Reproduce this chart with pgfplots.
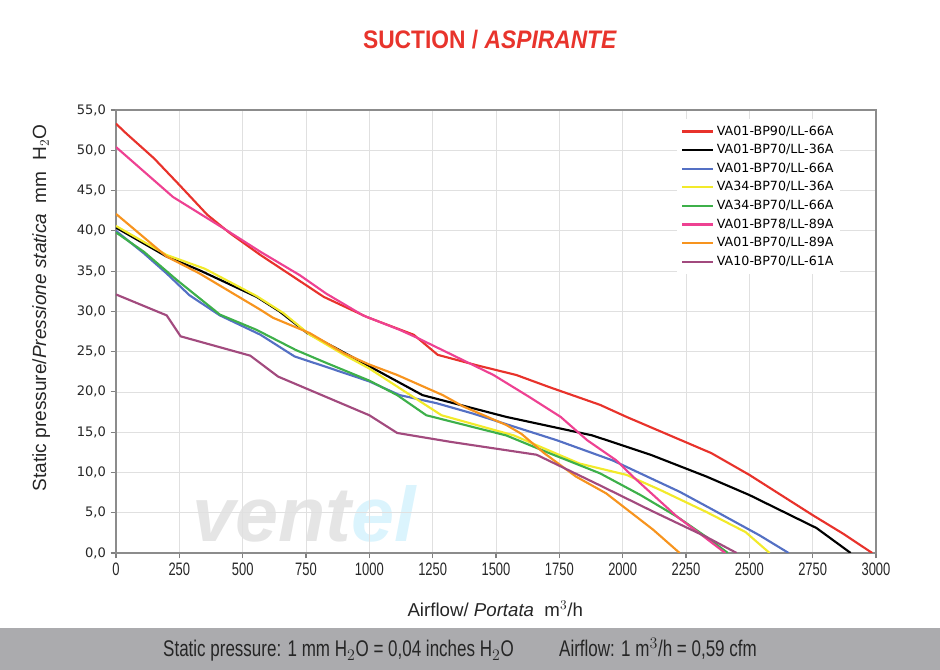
\documentclass[border=0pt]{standalone}
\usepackage{pgfplots}
\pgfplotsset{compat=1.18}
\usepackage{fontspec}
\setmainfont{Liberation Sans}
\newfontfamily\verd{DejaVu Sans}
\newfontfamily\narrow[FakeStretch=0.72]{Liberation Sans}
\newfontfamily\titlefont[FakeStretch=0.9]{Liberation Sans}
\newfontfamily\bandfont[FakeStretch=0.75]{Liberation Sans}
\newfontfamily\logofont[FakeStretch=1.0]{Liberation Sans}
\definecolor{cred}{HTML}{E8322B}
\definecolor{cblack}{HTML}{000000}
\definecolor{cblue}{HTML}{5470C4}
\definecolor{cyellow}{HTML}{F2EA2A}
\definecolor{cgreen}{HTML}{3DB04A}
\definecolor{cpink}{HTML}{EE4192}
\definecolor{corange}{HTML}{F7941E}
\definecolor{cpurple}{HTML}{A24A7E}
\definecolor{bandgray}{HTML}{ABABAE}
\definecolor{titlered}{HTML}{E8342C}
\begin{document}
\begin{tikzpicture}[x=0.75pt,y=0.75pt]
\path[use as bounding box] (0,0) rectangle (940,670);
\fill[bandgray] (0,0) rectangle (940,42);
\node[font=\bandfont\fontsize{17}{19}\selectfont, text=black!85] at (460,20)
  {Static pressure: 1 mm H$_2$O = 0,04 inches H$_2$O\hspace{2em}Airflow: 1 m$^3$/h = 0,59 cfm};
\node[font=\titlefont\bfseries\fontsize{19}{22}\selectfont, text=titlered] at (490,630)
  {SUCTION / \textit{ASPIRANTE}};
\node[font=\logofont\bfseries\itshape\fontsize{58}{60}\selectfont, anchor=base west, inner sep=0] at (192,128)
  {\textcolor{black!10}{vent}\textcolor{cyan!14}{el}};
\begin{axis}[
  at={(87pt,87.75pt)}, anchor=south west,
  scale only axis, width=570pt, height=332.25pt,
  xmin=0, xmax=3000, ymin=0, ymax=55,
  xtick={0,250,...,3000}, ytick={0,5,...,55},
  grid=major, major grid style={draw=black!12, line width=0.6pt},
  axis line style={draw=black!45, line width=0.9pt},
  tick align=outside, xtick pos=left, ytick pos=left,
  major tick length=4pt, tick style={draw=black!50, line width=0.8pt},
  no markers,
  /pgf/number format/assume math mode=true,
  xticklabel style={font=\narrow\fontsize{13.5}{15}\selectfont, text=black!85, /pgf/number format/set thousands separator={}},
  yticklabel style={font=\verd\fontsize{9.8}{12}\selectfont, text=black!85, /pgf/number format/.cd, fixed, fixed zerofill, precision=1, use comma},
  xlabel={Airflow/ \textit{Portata}\ \ m$^3$/h},
  ylabel={Static pressure/\textit{Pressione statica}\ \ mm\ \ H$_2$O},
  xlabel style={font=\fontsize{14}{16}\selectfont, text=black!85, at={(axis description cs:0.499,-0.125)}, anchor=center},
  ylabel style={font=\fontsize{14.3}{16}\selectfont, text=black!85, at={(axis description cs:-0.0985,0.553)}, anchor=center},
  legend style={at={(axis cs:2215,53.9)}, anchor=north west, draw=none, fill=white,
    font=\verd\fontsize{9.5}{11}\selectfont, row sep=1.4pt, inner sep=3pt},
  legend cell align=left,
  legend image code/.code={\draw[#1] (0pt,0pt) -- (23pt,0pt);},
  every axis plot/.append style={line width=1.6pt},
]
\addplot[cred] coordinates {(0,53.3)(40,52.1)(150,49.0)(250,45.7)(360,42.0)(450,39.7)(570,37.0)(700,34.3)(820,31.8)(990,29.3)(1175,27.1)(1270,24.6)(1425,23.3)(1580,22.1)(1710,20.6)(1910,18.4)(2015,16.9)(2350,12.4)(2500,9.7)(2750,4.7)(2870,2.4)(2985,0)};
\addlegendentry{VA01-BP90/LL-66A}
\addplot[cblack] coordinates {(0,40.4)(200,36.8)(330,35.1)(555,31.8)(645,30.0)(755,27.3)(870,25.4)(1210,19.6)(1540,16.9)(1880,14.6)(2110,12.2)(2330,9.5)(2500,7.2)(2765,3.1)(2900,0)};
\addlegendentry{VA01-BP70/LL-36A}
\addplot[cblue] coordinates {(0,40.0)(110,37.2)(200,34.7)(290,32.0)(410,29.5)(570,27.1)(705,24.4)(830,23.1)(1000,21.3)(1120,19.6)(1265,18.6)(1410,17.3)(1570,15.7)(1740,14.0)(1960,11.5)(2225,7.6)(2360,5.3)(2540,2.2)(2655,0)};
\addlegendentry{VA01-BP70/LL-66A}
\addplot[cyellow] coordinates {(0,40.6)(200,37.0)(350,35.3)(555,31.9)(660,29.8)(765,27.1)(900,24.6)(1000,22.9)(1285,17.1)(1570,14.6)(1830,11.1)(2015,9.7)(2150,7.8)(2330,5.1)(2485,2.6)(2580,0)};
\addlegendentry{VA34-BP70/LL-36A}
\addplot[cgreen] coordinates {(0,39.8)(110,37.4)(240,33.9)(410,29.6)(555,27.7)(710,25.2)(830,23.6)(1000,21.4)(1110,19.6)(1225,17.1)(1540,14.6)(1710,12.4)(1910,9.9)(2070,7.2)(2215,4.5)(2330,2.0)(2415,0)};
\addlegendentry{VA34-BP70/LL-66A}
\addplot[cpink] coordinates {(0,50.4)(225,44.2)(425,40.3)(570,37.4)(725,34.5)(830,32.2)(975,29.5)(1120,27.7)(1190,26.7)(1490,22.1)(1630,19.4)(1755,16.9)(1860,14.0)(1975,11.5)(2040,9.5)(2215,4.5)(2305,2.4)(2405,0)};
\addlegendentry{VA01-BP78/LL-89A}
\addplot[corange] coordinates {(0,42.1)(200,36.8)(330,34.7)(570,30.2)(620,29.2)(765,27.3)(900,24.8)(1000,23.4)(1110,22.1)(1290,19.6)(1370,18.2)(1540,15.9)(1600,14.8)(1690,12.4)(1815,9.5)(1935,7.4)(2120,2.9)(2225,0)};
\addlegendentry{VA01-BP70/LL-89A}
\addplot[cpurple] coordinates {(0,32.1)(200,29.5)(255,26.9)(530,24.5)(640,21.9)(1000,17.1)(1110,14.9)(1320,13.8)(1660,12.2)(1910,8.4)(2110,5.3)(2330,2.0)(2450,0)};
\addlegendentry{VA10-BP70/LL-61A}
\end{axis}
\end{tikzpicture}
\end{document}
